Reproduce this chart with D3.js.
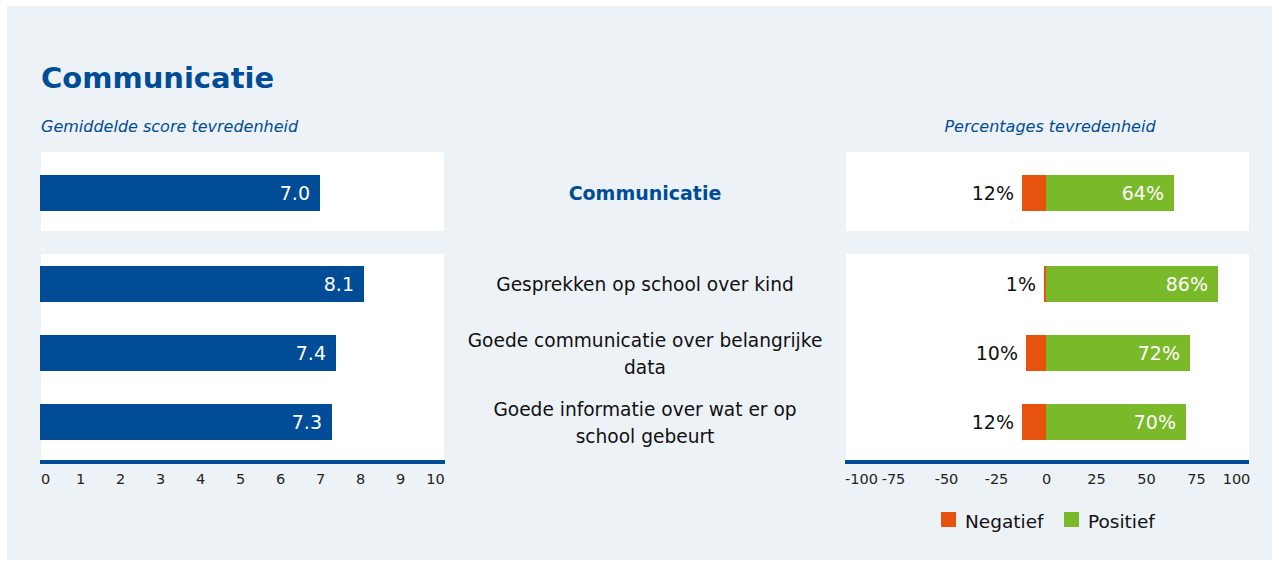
<!DOCTYPE html>
<html>
<head>
<meta charset="utf-8">
<script src="https://cdn.jsdelivr.net/npm/d3@7"></script>
<style>
  body { margin: 0; background: #fff; }
  text { font-family: Tahoma, "DejaVu Sans", sans-serif; }
</style>
</head>
<body>
<div id="canvas"></div>
<script>
// data
const topLabel = 'Communicatie';
const topScore = 7.0;
const topNeg = 12;
const topPos = 64;

const items = ['Gesprekken op school over kind', 'Goede communicatie over belangrijke data', 'Goede informatie over wat er op school gebeurt'];
const itemLines = [['Gesprekken op school over kind'], ['Goede communicatie over belangrijke', 'data'], ['Goede informatie over wat er op', 'school gebeurt']];
const scores = [8.1, 7.4, 7.3];
const negatief = [1, 10, 12];
const positief = [86, 72, 70];

const scoreTicks = [0, 1, 2, 3, 4, 5, 6, 7, 8, 9, 10];
const pctTicks = [-100, -75, -50, -25, 0, 25, 50, 75, 100];

const blue = '#004c97';
const orange = '#e8520f';
const green = '#7ab929';

const svg = d3.select('#canvas').append('svg')
  .attr('width', 1279)
  .attr('height', 567);

svg.append('rect')
  .attr('x', 7).attr('y', 6).attr('width', 1265).attr('height', 554)
  .attr('fill', '#edf2f7');

// titels
svg.append('text')
  .attr('x', 41).attr('y', 88)
  .attr('font-size', 29).attr('font-weight', 'bold')
  .attr('fill', blue)
  .text('Communicatie');

svg.append('text')
  .attr('x', 41).attr('y', 132)
  .attr('font-size', 16).attr('font-style', 'italic')
  .attr('fill', blue)
  .text('Gemiddelde score tevredenheid');

svg.append('text')
  .attr('x', 1050).attr('y', 132)
  .attr('text-anchor', 'middle')
  .attr('font-size', 16).attr('font-style', 'italic')
  .attr('fill', blue)
  .text('Percentages tevredenheid');

// schalen
const xScore = d3.scaleLinear().domain([0, 10]).range([40, 440]);
const xPct = d3.scaleLinear().domain([-100, 100]).range([846, 1246]);

const barH = 36;
// y-positie (midden) van elke rij
const rowY = d3.scalePoint().domain(items).range([284, 422]);
const topY = 193;

// witte panelen
[[41, 444], [846, 1249]].forEach(function(p) {
  svg.append('rect').attr('x', p[0]).attr('y', 152).attr('width', p[1] - p[0]).attr('height', 79).attr('fill', '#fff');
  svg.append('rect').attr('x', p[0]).attr('y', 254).attr('width', p[1] - p[0]).attr('height', 207).attr('fill', '#fff');
});

// linker balken
const leftData = [{label: topLabel, v: topScore, cy: topY}].concat(items.map(function(d, i) {
  return {label: d, v: scores[i], cy: rowY(d)};
}));

svg.selectAll('.score')
  .data(leftData)
  .enter()
  .append('rect')
  .attr('class', 'score')
  .attr('x', xScore(0))
  .attr('y', function(d) { return d.cy - barH / 2; })
  .attr('width', function(d) { return xScore(d.v) - xScore(0); })
  .attr('height', barH)
  .attr('fill', blue);

svg.selectAll('.scorelabel')
  .data(leftData)
  .enter()
  .append('text')
  .attr('class', 'scorelabel')
  .attr('x', function(d) { return xScore(d.v) - 10; })
  .attr('y', function(d) { return d.cy + 7; })
  .attr('text-anchor', 'end')
  .attr('font-size', 19)
  .attr('fill', '#fff')
  .text(function(d) { return d.v.toFixed(1); });

// rechter balken
const rightData = [{neg: topNeg, pos: topPos, cy: topY}].concat(items.map(function(d, i) {
  return {neg: negatief[i], pos: positief[i], cy: rowY(d)};
}));

svg.selectAll('.neg')
  .data(rightData)
  .enter()
  .append('rect')
  .attr('class', 'neg')
  .attr('x', function(d) { return xPct(-d.neg); })
  .attr('y', function(d) { return d.cy - barH / 2; })
  .attr('width', function(d) { return xPct(0) - xPct(-d.neg); })
  .attr('height', barH)
  .attr('fill', orange);

svg.selectAll('.pos')
  .data(rightData)
  .enter()
  .append('rect')
  .attr('class', 'pos')
  .attr('x', xPct(0))
  .attr('y', function(d) { return d.cy - barH / 2; })
  .attr('width', function(d) { return xPct(d.pos) - xPct(0); })
  .attr('height', barH)
  .attr('fill', green);

svg.selectAll('.neglabel')
  .data(rightData)
  .enter()
  .append('text')
  .attr('class', 'neglabel')
  .attr('x', function(d) { return xPct(-d.neg) - 8; })
  .attr('y', function(d) { return d.cy + 7; })
  .attr('text-anchor', 'end')
  .attr('font-size', 19)
  .attr('fill', '#111')
  .text(function(d) { return d.neg + '%'; });

svg.selectAll('.poslabel')
  .data(rightData)
  .enter()
  .append('text')
  .attr('class', 'poslabel')
  .attr('x', function(d) { return xPct(d.pos) - 10; })
  .attr('y', function(d) { return d.cy + 7; })
  .attr('text-anchor', 'end')
  .attr('font-size', 19)
  .attr('fill', '#fff')
  .text(function(d) { return d.pos + '%'; });

// middelste labels
svg.append('text')
  .attr('x', 645).attr('y', topY + 7)
  .attr('text-anchor', 'middle')
  .attr('font-size', 19).attr('font-weight', 'bold')
  .attr('fill', blue)
  .text(topLabel);

items.forEach(function(d, i) {
  const lines = itemLines[i];
  const t = svg.append('text')
    .attr('text-anchor', 'middle')
    .attr('font-size', 18.6)
    .attr('fill', '#111');
  lines.forEach(function(l, j) {
    t.append('tspan')
      .attr('x', 645)
      .attr('y', rowY(d) + 7 + (j - (lines.length - 1) / 2) * 27)
      .text(l);
  });
});

// assen
const axisL = svg.append('g').attr('transform', 'translate(0,462)')
  .call(d3.axisBottom(xScore).tickValues(scoreTicks).tickSize(0).tickPadding(12));
const axisR = svg.append('g').attr('transform', 'translate(0,462)')
  .call(d3.axisBottom(xPct).tickValues(pctTicks).tickSize(0).tickPadding(12)
    .tickFormat(function(d) { return d < 0 ? '-' + Math.abs(d) : '' + d; }));

[axisL, axisR].forEach(function(a) {
  a.select('.domain').remove();
  a.selectAll('text').attr('font-size', 14.5).attr('fill', '#222')
    .attr('font-family', 'Tahoma, "DejaVu Sans", sans-serif');
});
axisL.selectAll('text').attr('dx', function(d) { return d === 0 ? 5 : d === 10 ? -5 : 0; });
axisR.selectAll('text').attr('dx', function(d) { return d === -100 ? 15 : d === 100 ? -10 : d === -75 ? -3 : 0; });

// aslijnen
[[40, 445], [845, 1249]].forEach(function(p) {
  svg.append('line')
    .attr('x1', p[0]).attr('x2', p[1])
    .attr('y1', 462).attr('y2', 462)
    .attr('stroke', blue).attr('stroke-width', 4);
});

// legenda
const legend = [{name: 'Negatief', color: orange, x: 941}, {name: 'Positief', color: green, x: 1064}];
const lg = svg.selectAll('.legend')
  .data(legend)
  .enter()
  .append('g')
  .attr('class', 'legend')
  .attr('transform', function(d) { return 'translate(' + d.x + ',512)'; });
lg.append('rect').attr('width', 15).attr('height', 15).attr('fill', function(d) { return d.color; });
lg.append('text').attr('x', 24).attr('y', 16).attr('font-size', 18.5).attr('fill', '#111')
  .text(function(d) { return d.name; });
</script>
</body>
</html>
